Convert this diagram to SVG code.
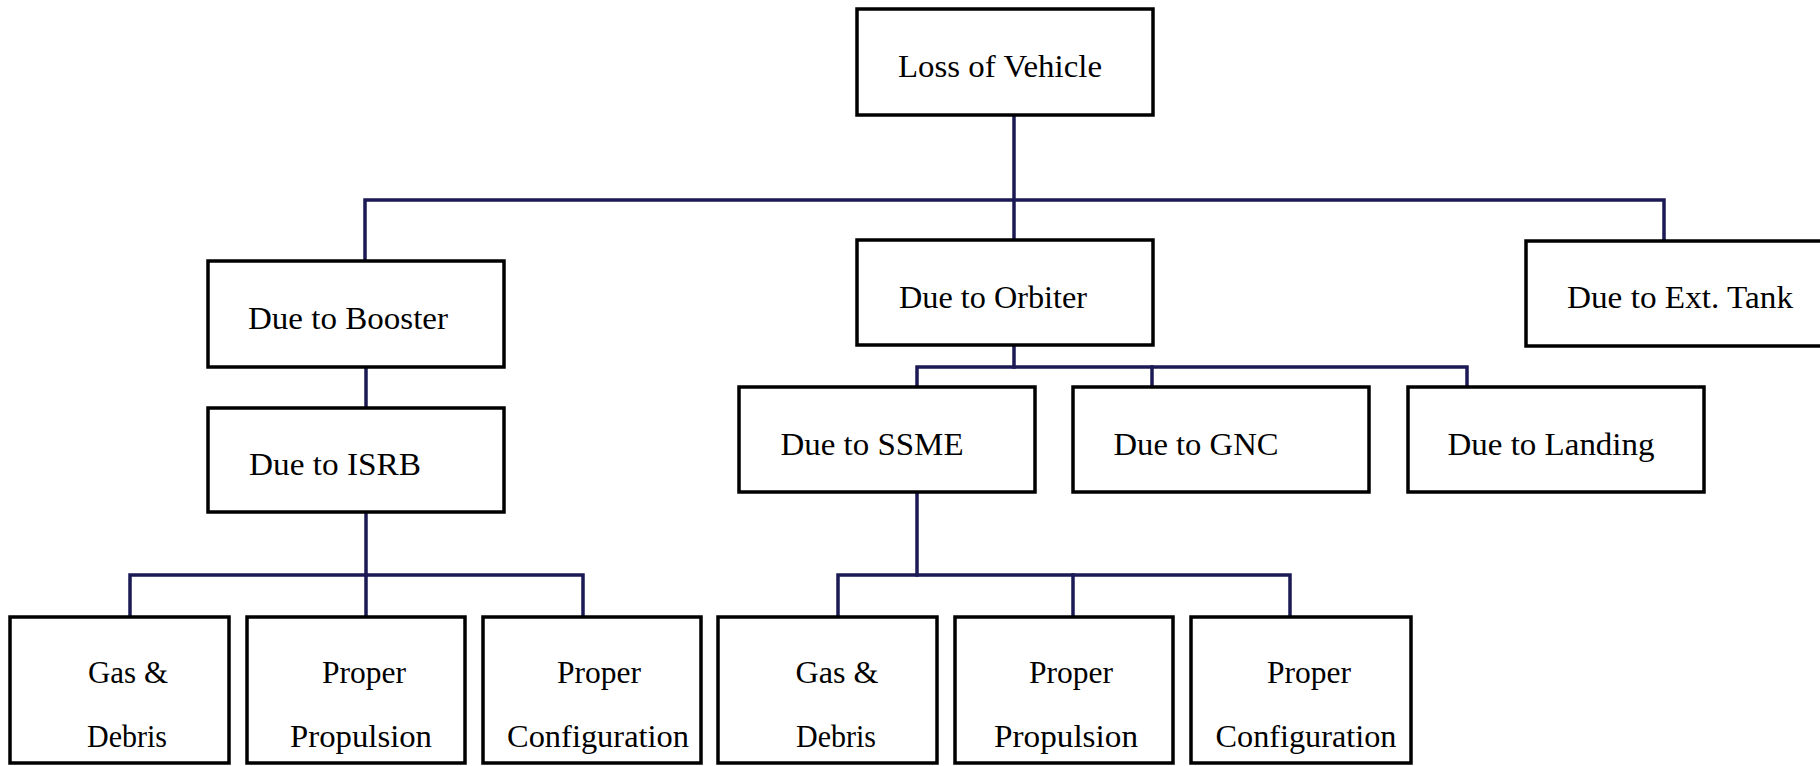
<svg xmlns="http://www.w3.org/2000/svg" width="1820" height="766" viewBox="0 0 1820 766">
  <style>
    .box { fill: #ffffff; stroke: #000000; stroke-width: 3.5; }
    .lbl { font-family: "Liberation Serif", "Times New Roman", serif; font-size: 32px; fill: #000000; text-anchor: middle; }
    .wire { fill: none; stroke: #1b1a55; stroke-width: 3.5; stroke-linejoin: miter; stroke-linecap: square; }
  </style>
  <rect width="1820" height="766" fill="#ffffff"/>

  <!-- tree connectors -->
  <g id="connectors">
    <path class="wire" d="M1014 115 V240"/>
    <path class="wire" d="M365 261 V200 H1664 V241"/>
    <path class="wire" d="M366 367 V408"/>
    <path class="wire" d="M366 512 V575"/>
    <path class="wire" d="M130 617 V575 H583 V617"/>
    <path class="wire" d="M366 575 V617"/>
    <path class="wire" d="M1014 345 V367"/>
    <path class="wire" d="M917 387 V367 H1467 V387"/>
    <path class="wire" d="M1152 367 V387"/>
    <path class="wire" d="M917 492 V575"/>
    <path class="wire" d="M838 617 V575 H1290 V617"/>
    <path class="wire" d="M1073 575 V617"/>
  </g>

  <g id="loss-of-vehicle">
    <rect class="box" x="857" y="9" width="296" height="106"/>
    <text class="lbl" x="1000" y="77" textLength="204" lengthAdjust="spacingAndGlyphs">Loss of Vehicle</text>
  </g>

  <g id="due-to-booster">
    <rect class="box" x="208" y="261" width="296" height="106"/>
    <text class="lbl" x="348" y="329" textLength="200" lengthAdjust="spacingAndGlyphs">Due to Booster</text>
  </g>

  <g id="due-to-isrb">
    <rect class="box" x="208" y="408" width="296" height="104"/>
    <text class="lbl" x="335" y="475" textLength="172" lengthAdjust="spacingAndGlyphs">Due to ISRB</text>
  </g>

  <g id="due-to-orbiter">
    <rect class="box" x="857" y="240" width="296" height="105"/>
    <text class="lbl" x="993" y="308" textLength="188" lengthAdjust="spacingAndGlyphs">Due to Orbiter</text>
  </g>

  <g id="due-to-ext-tank">
    <rect class="box" x="1526" y="241" width="298" height="105"/>
    <text class="lbl" x="1680" y="308" textLength="226" lengthAdjust="spacingAndGlyphs">Due to Ext. Tank</text>
  </g>

  <g id="due-to-ssme">
    <rect class="box" x="739" y="387" width="296" height="105"/>
    <text class="lbl" x="872" y="455" textLength="183" lengthAdjust="spacingAndGlyphs">Due to SSME</text>
  </g>

  <g id="due-to-gnc">
    <rect class="box" x="1073" y="387" width="296" height="105"/>
    <text class="lbl" x="1196" y="455" textLength="165" lengthAdjust="spacingAndGlyphs">Due to GNC</text>
  </g>

  <g id="due-to-landing">
    <rect class="box" x="1408" y="387" width="296" height="105"/>
    <text class="lbl" x="1551" y="455" textLength="207" lengthAdjust="spacingAndGlyphs">Due to Landing</text>
  </g>

  <!-- leaves under the booster branch -->
  <g id="isrb-gas-debris">
    <rect class="box" x="10" y="617" width="219" height="146"/>
    <text class="lbl" x="128" y="683" textLength="80" lengthAdjust="spacingAndGlyphs">Gas &amp;</text>
    <text class="lbl" x="127" y="747" textLength="80" lengthAdjust="spacingAndGlyphs">Debris</text>
  </g>

  <g id="isrb-proper-propulsion">
    <rect class="box" x="247" y="617" width="218" height="146"/>
    <text class="lbl" x="364" y="683" textLength="84" lengthAdjust="spacingAndGlyphs">Proper</text>
    <text class="lbl" x="361" y="747" textLength="142" lengthAdjust="spacingAndGlyphs">Propulsion</text>
  </g>

  <g id="isrb-proper-configuration">
    <rect class="box" x="483" y="617" width="218" height="146"/>
    <text class="lbl" x="599" y="683" textLength="84" lengthAdjust="spacingAndGlyphs">Proper</text>
    <text class="lbl" x="598" y="747" textLength="182" lengthAdjust="spacingAndGlyphs">Configuration</text>
  </g>

  <!-- leaves under the SSME branch -->
  <g id="ssme-gas-debris">
    <rect class="box" x="718" y="617" width="219" height="146"/>
    <text class="lbl" x="837" y="683" textLength="83" lengthAdjust="spacingAndGlyphs">Gas &amp;</text>
    <text class="lbl" x="836" y="747" textLength="80" lengthAdjust="spacingAndGlyphs">Debris</text>
  </g>

  <g id="ssme-proper-propulsion">
    <rect class="box" x="955" y="617" width="218" height="146"/>
    <text class="lbl" x="1071" y="683" textLength="84" lengthAdjust="spacingAndGlyphs">Proper</text>
    <text class="lbl" x="1066" y="747" textLength="144" lengthAdjust="spacingAndGlyphs">Propulsion</text>
  </g>

  <g id="ssme-proper-configuration">
    <rect class="box" x="1191" y="617" width="220" height="146"/>
    <text class="lbl" x="1309" y="683" textLength="84" lengthAdjust="spacingAndGlyphs">Proper</text>
    <text class="lbl" x="1306" y="747" textLength="181" lengthAdjust="spacingAndGlyphs">Configuration</text>
  </g>
</svg>
